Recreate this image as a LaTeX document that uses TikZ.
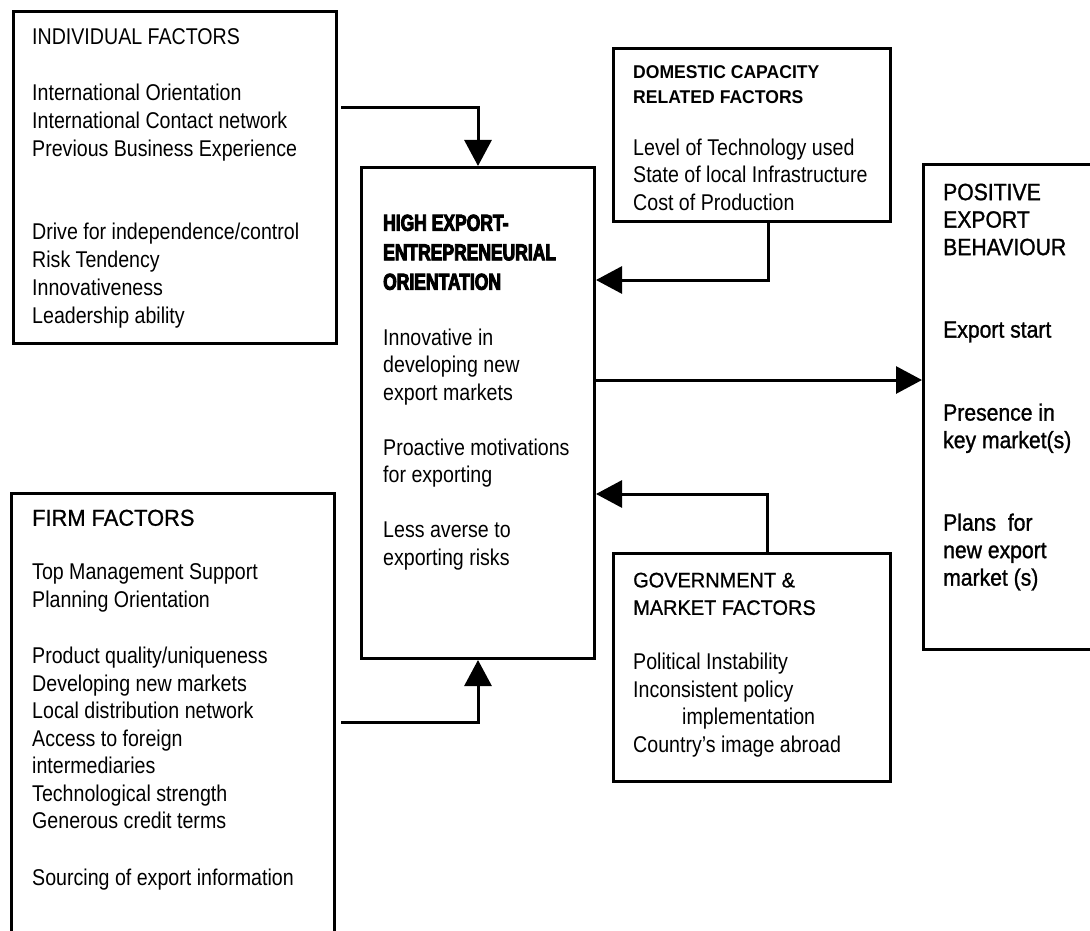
\documentclass[tikz,border=0pt]{standalone}
\usepackage{fontspec}
\setmainfont{Liberation Sans}[FakeStretch=0.86]
\newfontfamily\headfont{Liberation Sans}[FakeStretch=0.95]
\newfontfamily\firmheadfont{Liberation Sans}[FakeStretch=0.95,FakeBold=0.8]
\newfontfamily\heavyfont{Liberation Sans Bold}[FakeStretch=0.76,FakeBold=4]
\newfontfamily\semifont{Liberation Sans}[FakeStretch=0.9,FakeBold=1.2]
\usetikzlibrary{arrows.meta}
\begin{document}
\begin{tikzpicture}[x=1pt,y=-1pt,line join=miter,
  box/.style={draw, line width=3pt, inner sep=0pt, anchor=north west},
  txt/.style={anchor=north west, inner sep=0pt, align=left,
              font=\fontsize{22.8}{27.5}\selectfont},
  arr/.style={line width=3pt, -{Triangle[length=26pt,width=27pt]}}]
\useasboundingbox (0,0) rectangle (1090,931);
\clip (0,0) rectangle (1090,931);

% frames
\node[box, minimum width=323pt, minimum height=332pt] (ind)  at (12,10)  {};
\node[box, minimum width=323pt, minimum height=480pt] (firm) at (10,492) {};
\node[box, minimum width=233pt, minimum height=491pt] (hub)  at (360,166) {};
\node[box, minimum width=277pt, minimum height=173pt] (dom)  at (612,47)  {};
\node[box, minimum width=277pt, minimum height=228pt] (gov)  at (612,552) {};
\node[box, minimum width=200pt, minimum height=485pt] (pos)  at (922,163) {};

% individual factors
\node[txt, font=\fontsize{22.8}{28}\selectfont] (indtxt) at (32,28.5) {%
  INDIVIDUAL FACTORS\\[28pt]
  International Orientation\\
  International Contact network\\
  Previous Business Experience\\[55pt]
  Drive for independence/control\\
  Risk Tendency\\
  Innovativeness\\
  Leadership ability};

% firm factors
\node[txt] (firmtxt) at (32,509.5) {%
  {\firmheadfont\fontsize{23}{27.5}\selectfont FIRM FACTORS}\\[26.5pt]
  Top Management Support\\
  Planning Orientation\\[29pt]
  Product quality/uniqueness\\
  Developing new markets\\
  Local distribution network\\
  Access to foreign\\
  intermediaries\\
  Technological strength\\
  Generous credit terms\\[29.5pt]
  Sourcing of export information};

% central orientation box
\node[txt, font=\heavyfont\fontsize{23}{29.5}\selectfont] (hubtitle) at (383,214.5) {%
  HIGH EXPORT-\\
  ENTREPRENEURIAL\\
  ORIENTATION};
\node[txt] (hubtxt) at (383,328.5) {%
  Innovative in\\
  developing new\\
  export markets\\[27.5pt]
  Proactive motivations\\
  for exporting\\[27.5pt]
  Less averse to\\
  exporting risks};

% domestic capacity
\node[txt, font=\headfont\bfseries\fontsize{18.5}{25}\selectfont] (domtitle) at (633,65.5) {%
  DOMESTIC CAPACITY\\
  RELATED FACTORS};
\node[txt] (domtxt) at (633,138.5) {%
  Level of Technology used\\
  State of local Infrastructure\\
  Cost of Production};

% government and market
\node[txt] (govtxt) at (633,572.5) {%
  {\firmheadfont\fontsize{21}{27.5}\selectfont GOVERNMENT \&}\\
  {\firmheadfont\fontsize{21}{27.5}\selectfont MARKET FACTORS}\\[27.5pt]
  Political Instability\\
  Inconsistent policy\\
  \hspace*{49pt}implementation\\
  Country's image abroad};

% positive export behaviour
\node[txt, font=\semifont\fontsize{23.5}{27.5}\selectfont] (postxt) at (943,183.5) {%
  POSITIVE\\
  EXPORT\\
  BEHAVIOUR\\[55pt]
  Export start\\[55.5pt]
  Presence in\\
  key market(s)\\[55pt]
  Plans~ for\\
  new export\\
  market (s)};

% connectors
\coordinate (indout)  at (341,108);
\coordinate (firmout) at (341,722);
\draw[arr] (indout) -| (hub.north);
\draw[arr] (firmout) -| (hub.south);
\draw[arr] ([xshift=16.5pt]dom.south) |- ([yshift=133pt]hub.east);
\draw[arr] ([xshift=15.5pt]gov.north) |- ([yshift=-81pt]hub.east);
\draw[arr] ([yshift=33pt]hub.east) -- ([yshift=33pt]hub.east -| pos.west);
\end{tikzpicture}
\end{document}
